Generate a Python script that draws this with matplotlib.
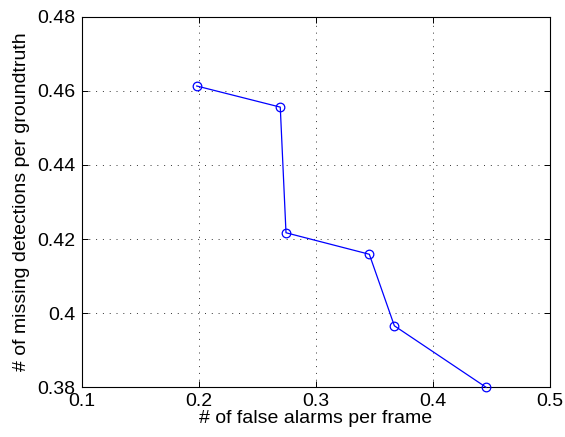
import matplotlib
matplotlib.use("Agg")
import matplotlib.pyplot as plt

false_alarms = [0.1983, 0.2697, 0.2746, 0.3458, 0.3672, 0.4456]
missing_det = [0.4613, 0.4556, 0.4217, 0.4159, 0.3966, 0.3800]
xticks = [0.1, 0.2, 0.3, 0.4, 0.5]
yticks = [0.38, 0.40, 0.42, 0.44, 0.46, 0.48]
xticklabels = ["0.1", "0.2", "0.3", "0.4", "0.5"]
yticklabels = ["0.38", "0.4", "0.42", "0.44", "0.46", "0.48"]

plt.rcParams['font.family'] = ['Liberation Sans', 'DejaVu Sans']
fig = plt.figure(figsize=(5.65, 4.37), dpi=100)
ax = fig.add_axes([0.1446, 0.1137, 0.973 - 0.1446, 0.9618 - 0.1137])
ax.plot(false_alarms, missing_det, color='#0000ff', lw=0.9, marker='o',
        markersize=6.2, markerfacecolor='none', markeredgecolor='#0000ff', markeredgewidth=0.9,
        clip_on=False, zorder=3)
ax.set_xlim(0.1, 0.5)
ax.set_ylim(0.38, 0.48)
ax.set_xticks(xticks)
ax.set_xticklabels(xticklabels)
ax.set_yticks(yticks)
ax.set_yticklabels(yticklabels)
ax.grid(True, linestyle=(0, (1, 6)), color='#333333', lw=0.7)
ax.tick_params(direction='in', top=True, right=True, labelsize=14, length=4, width=0.7)
ax.tick_params(axis='x', pad=4)
ax.tick_params(axis='y', pad=4.5)
for s in ax.spines.values():
    s.set_linewidth(0.8)
ax.set_xlabel('# of false alarms per frame', fontsize=14, labelpad=0)
ax.set_ylabel('# of missing detections per groundtruth', fontsize=14, labelpad=5)
fig.savefig('out.png', dpi=100)
